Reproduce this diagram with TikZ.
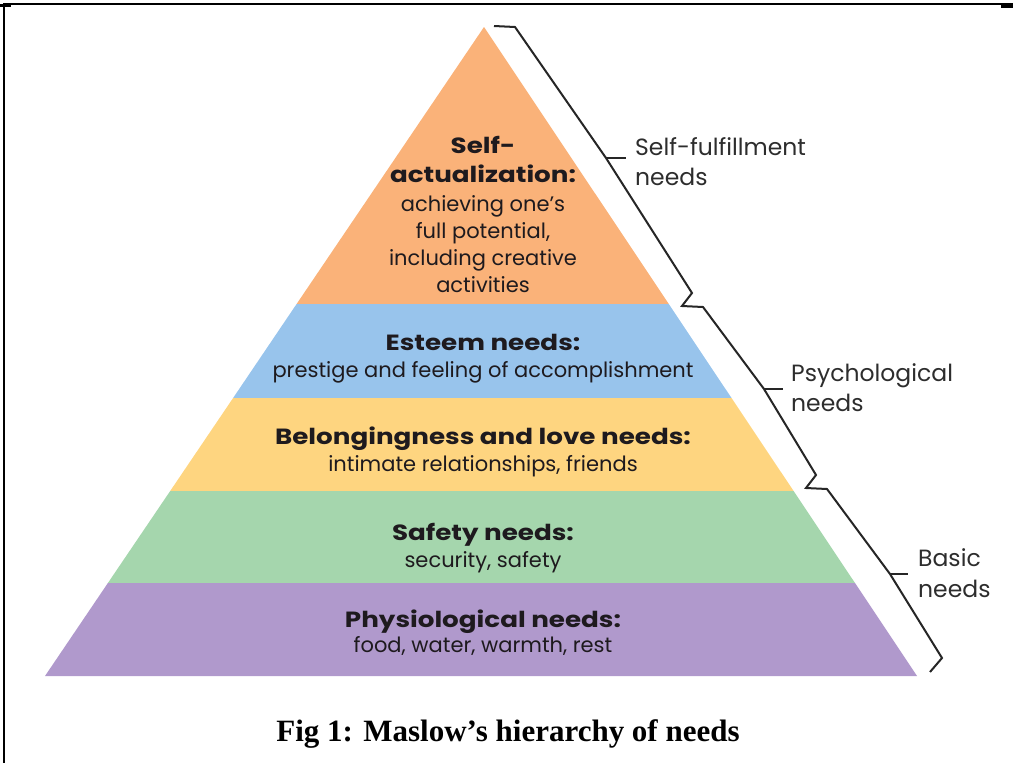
\documentclass[tikz,border=0pt]{standalone}
\usepackage{fontspec}
\newfontfamily\pop{Poppins}
\newfontfamily\popw[FakeStretch=1.19]{Poppins}
\newfontfamily\capfont{Liberation Serif}
\definecolor{cOrange}{RGB}{250,178,121}
\definecolor{cBlue}{RGB}{152,196,236}
\definecolor{cYellow}{RGB}{254,213,128}
\definecolor{cGreen}{RGB}{165,214,173}
\definecolor{cPurple}{RGB}{176,153,204}
\definecolor{txt}{RGB}{30,26,30}
\definecolor{lbl}{RGB}{45,45,45}
\begin{document}
\begin{tikzpicture}[x=1pt,y=-1pt,
  head/.style={font=\popw\bfseries\fontsize{22}{26}\selectfont, text=txt, anchor=base, inner sep=0pt},
  sub/.style={font=\pop\fontsize{21}{25}\selectfont, text=txt, anchor=base, inner sep=0pt},
  side/.style={font=\pop\fontsize{23.5}{27}\selectfont, text=lbl, anchor=base west, inner sep=0pt},
  bracepath/.style={line width=2pt, line join=miter, black!85},
  frameline/.style={line width=2pt, black}]
\useasboundingbox (0,0) rectangle (1013,763);
% frame
\draw[frameline] (4,763) -- (4,4) -- (1013,4);
\draw[line width=3pt] (0,5) -- (11,5);
\draw[line width=3pt] (1001,6) -- (1013,6);
% pyramid corners
\coordinate (apex) at (484,27);
\coordinate (l1) at (296.6,304); \coordinate (r1) at (668.8,304);
\coordinate (l2) at (233.1,398); \coordinate (r2) at (731.5,398);
\coordinate (l3) at (170.2,491); \coordinate (r3) at (793.6,491);
\coordinate (l4) at (107.9,583); \coordinate (r4) at (855,583);
\coordinate (l5) at (45,676);    \coordinate (r5) at (917,676);
\fill[cOrange] (apex) -- (r1) -- (l1) -- cycle;
\fill[cBlue]   (l1) -- (r1) -- (r2) -- (l2) -- cycle;
\fill[cYellow] (l2) -- (r2) -- (r3) -- (l3) -- cycle;
\fill[cGreen]  (l3) -- (r3) -- (r4) -- (l4) -- cycle;
\fill[cPurple] (l4) -- (r4) -- (r5) -- (l5) -- cycle;
% texts in the pyramid
\node[head] (sa1) at (483,153) {Self-};
\node[head] (sa2) at (483,182) {actualization:};
\node[sub]  (sa3) at (483,211) {achieving one’s};
\node[sub]  (sa4) at (483,238) {full potential,};
\node[sub]  (sa5) at (483,265) {including creative};
\node[sub]  (sa6) at (483,292) {activities};
\node[head] (es1) at (483,350) {Esteem needs:};
\node[sub]  (es2) at (483,377) {prestige and feeling of accomplishment};
\node[head] (be1) at (483,444) {Belongingness and love needs:};
\node[sub]  (be2) at (483,471) {intimate relationships, friends};
\node[head] (sf1) at (483,540) {Safety needs:};
\node[sub]  (sf2) at (483,567) {security, safety};
\node[head] (ph1) at (483,627) {Physiological needs:};
\node[sub]  (ph2) at (483,652) {food, water, warmth, rest};
% braces
\coordinate (b0) at (494,26);
\coordinate (t1) at (606,158);
\coordinate (t2) at (764,389);
\coordinate (t3) at (890,574);
\draw[bracepath] (b0) -- (515,27) -- (t1) -- (692,293) -- (682,306) -- (703,307)
  -- (t2) -- (816,475) -- (806,488) -- (827,489) -- (t3) -- (942,658) -- (930,672);
\draw[bracepath] (t1) -- ++(20,0);
\draw[bracepath] (t2) -- ++(19,0);
\draw[bracepath] (t3) -- ++(18,0);
% side labels
\node[side] (lab1a) at (635,155) {Self-fulfillment};
\node[side] (lab1b) at (635,185) {needs};
\node[side] (lab2a) at (791,381) {Psychological};
\node[side] (lab2b) at (791,411) {needs};
\node[side] (lab3a) at (918,566) {Basic};
\node[side] (lab3b) at (918,597) {needs};
% caption
\node[font=\capfont\bfseries\fontsize{31}{36}\selectfont, anchor=base, inner sep=0pt] (cap) at (508,741) {Fig 1: Maslow’s hierarchy of needs};
\end{tikzpicture}
\end{document}
